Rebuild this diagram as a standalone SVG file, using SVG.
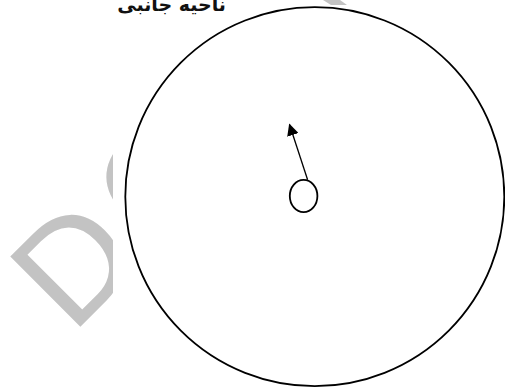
<svg xmlns="http://www.w3.org/2000/svg" width="505" height="388" viewBox="0 0 505 388">
  <style>
    .wm { font-family: "Liberation Sans", Arial, sans-serif; font-size: 144px; fill: #c3c3c3; }
    .shape { fill: none; stroke: #000; stroke-width: 1.8; }
    .conn { stroke: #000; stroke-width: 1.3; fill: none; }
    .label { font-family: "DejaVu Sans", "Noto Sans", sans-serif; font-size: 19px; font-weight: bold; fill: #111; }
  </style>
  <defs>
    <marker id="arrowhead" viewBox="0 0 12 12" refX="11" refY="6" markerWidth="12" markerHeight="12" markerUnits="userSpaceOnUse" orient="auto">
      <path d="M0,0 L12,6 L0,12 Z" fill="#000"/>
    </marker>
  </defs>
  <rect x="0" y="0" width="505" height="388" fill="#fff"/>
  <g id="watermark">
    <text class="wm" transform="translate(72,335) rotate(-45)" letter-spacing="12">DO</text>
    <polygon points="323,0 340,0 347,5 331,5" fill="#c3c3c3"/>
  </g>
  <rect x="113" y="5" width="392" height="383" fill="#fff"/>
  <g id="outer-circle">
    <circle class="shape" cx="314.8" cy="196.7" r="189.5"/>
  </g>
  <g id="inner-ellipse">
    <ellipse class="shape" cx="303.6" cy="196" rx="13.8" ry="16.2"/>
  </g>
  <g id="connectors">
    <line class="conn" x1="307.6" y1="179.8" x2="289.5" y2="124.5" marker-end="url(#arrowhead)"/>
  </g>
  <g id="title">
    <text class="label" x="226" y="11" text-anchor="end">ناحیه جانبی</text>
  </g>
</svg>
